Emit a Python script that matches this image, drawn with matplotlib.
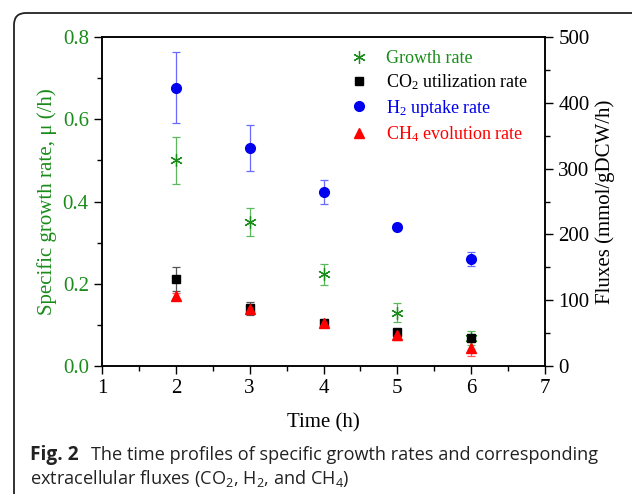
import numpy as np
import matplotlib
matplotlib.use('Agg')
import matplotlib.pyplot as plt
from matplotlib.patches import FancyBboxPatch
from matplotlib.ticker import MultipleLocator

time = [2, 3, 4, 5, 6]
growth = [0.50, 0.350, 0.223, 0.130, 0.068]
growth_err = [0.058, 0.034, 0.026, 0.024, 0.017]
co2 = [132, 88, 65, 51, 43]
co2_err = [18, 10, 5, 4, 3]
h2 = [423, 332, 265, 212, 163]
h2_err = [54, 35, 18, 0, 11]
ch4 = [106, 86, 65, 47, 28]
ch4_err = [5, 6, 4, 7, 13]

green = '#1a8c1a'
serif = 'Liberation Serif'
plt.rcParams['font.family'] = serif
plt.rcParams['mathtext.default'] = 'regular'

fig = plt.figure(figsize=(6.32, 4.94), dpi=100)
ax = fig.add_axes([0.1614, 0.259, 0.701, 0.666])
ax2 = ax.twinx()

ax.errorbar(time, growth, yerr=growth_err, fmt='none', ecolor='#5cb85c', elinewidth=0.9, capsize=3, capthick=0.9)
gr, = ax.plot(time, growth, ls='none', marker=(6, 2, 0), ms=9, mec=green, mew=0.9, color=green)

ax2.errorbar(time, h2, yerr=h2_err, fmt='none', ecolor='#6a6aff', elinewidth=0.9, capsize=3, capthick=0.9)
ax2.errorbar(time, co2, yerr=co2_err, fmt='none', ecolor='#555555', elinewidth=0.9, capsize=3, capthick=0.9)
ax2.errorbar(time, ch4, yerr=ch4_err, fmt='none', ecolor='#ff5555', elinewidth=0.9, capsize=3, capthick=0.9)
c2, = ax2.plot(time, co2, ls='none', marker='s', ms=6, color='black')
hh, = ax2.plot(time, h2, ls='none', marker='o', ms=7, color='#0000ee')
ch, = ax2.plot(time, ch4, ls='none', marker='^', ms=7, color='#ff0000')

ax.set_xlim(1, 7)
ax.set_ylim(0, 0.8)
ax2.set_ylim(0, 500)
ax.xaxis.set_major_locator(MultipleLocator(1))
ax.xaxis.set_minor_locator(MultipleLocator(0.5))
ax.yaxis.set_major_locator(MultipleLocator(0.2))
ax.yaxis.set_minor_locator(MultipleLocator(0.1))
ax2.yaxis.set_major_locator(MultipleLocator(100))
ax2.yaxis.set_minor_locator(MultipleLocator(50))
ax.yaxis.set_major_formatter(matplotlib.ticker.FormatStrFormatter('%.1f'))

ax.tick_params(axis='both', which='major', direction='out', length=6, width=1, labelsize=15)
ax.tick_params(axis='both', which='minor', direction='out', length=3.5, width=1)
ax.tick_params(axis='y', which='both', colors='black', labelcolor=green)
ax2.tick_params(axis='y', which='major', direction='out', length=6, width=1, labelsize=15)
ax2.tick_params(axis='y', which='minor', direction='out', length=3.5, width=1)
for a in (ax, ax2):
    for s in a.spines.values():
        s.set_linewidth(1.1)

ax.set_xlabel('Time (h)', fontsize=15, labelpad=11)
ax.set_ylabel('Specific growth rate, \u03bc (/h)', fontsize=15, color=green, labelpad=4)
ax2.set_ylabel('Fluxes (mmol/gDCW/h)', fontsize=15, labelpad=4)

labels = ['Growth rate', 'CO$_2$ utilization rate', 'H$_2$ uptake rate', 'CH$_4$ evolution rate']
colors = [green, 'black', '#0000ee', '#ff0000']
leg = ax.legend([gr, c2, hh, ch], labels, loc='upper right', bbox_to_anchor=(1.0, 1.01),
                frameon=False, fontsize=13, handletextpad=0.9, labelspacing=0.3, handlelength=1.2)
for t, c in zip(leg.get_texts(), colors):
    t.set_color(c)

frame = FancyBboxPatch((14, -60), 700, 494 - 13 + 60, boxstyle='round,pad=0,rounding_size=12',
                       transform=None, fill=False, lw=1.3, ec='#222222')
fig.patches.append(frame)

fig.text(30 / 632, 1 - 455 / 494, 'Fig. 2', fontsize=13.8, family='Open Sans', weight='bold',
         va='center', color='#222222')
fig.text(91 / 632, 1 - 455 / 494, 'The time profiles of specific growth rates and corresponding',
         fontsize=13.05, family='Open Sans', va='center', color='#222222')
fig.text(30 / 632, 1 - 478 / 494, 'extracellular fluxes (CO$_2$, H$_2$, and CH$_4$)',
         fontsize=13.05, family='Open Sans', va='center', color='#222222')

fig.savefig('out.png', dpi=100)
